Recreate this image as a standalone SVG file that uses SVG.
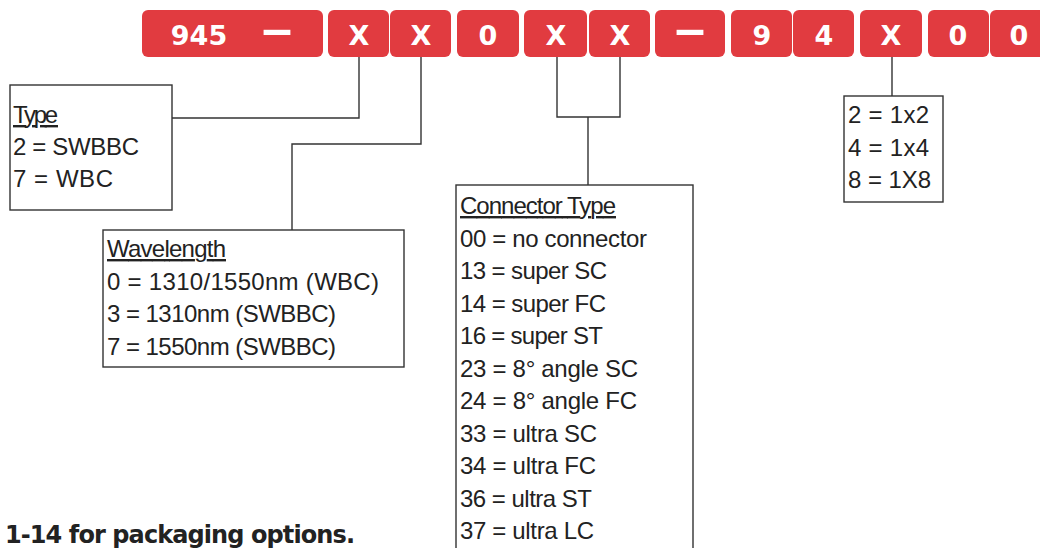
<svg xmlns="http://www.w3.org/2000/svg" width="1040" height="548" viewBox="0 0 1040 548">
<style>
.code rect{fill:#e13b40;}
.ct{font-family:"DejaVu Sans",sans-serif;font-weight:bold;font-size:27px;fill:#ffffff;text-anchor:middle;}
.dash{font-family:"DejaVu Sans",sans-serif;font-weight:bold;font-size:40px;fill:#ffffff;text-anchor:middle;}
.box{fill:#ffffff;stroke:#333333;stroke-width:1.4;}
.t{font-family:"Liberation Sans",Arial,sans-serif;font-size:24px;fill:#222222;}
.u{text-decoration:underline;}
.conn{fill:none;stroke:#333333;stroke-width:1.4;}
.note{font-family:"DejaVu Sans",sans-serif;font-weight:bold;font-size:24px;fill:#222222;}
</style>
<rect width="1040" height="548" fill="#ffffff"/>
<g id="code" class="code">
<rect x="142" y="10" width="181" height="47" rx="6"/>
<rect x="328" y="10" width="61" height="47" rx="6"/>
<rect x="390" y="10" width="61" height="47" rx="6"/>
<rect x="457" y="10" width="62" height="47" rx="6"/>
<rect x="524" y="10" width="63" height="47" rx="6"/>
<rect x="589" y="10" width="61" height="47" rx="6"/>
<rect x="655" y="10" width="70" height="47" rx="6"/>
<rect x="731" y="10" width="61" height="47" rx="6"/>
<rect x="793" y="10" width="61" height="47" rx="6"/>
<rect x="860" y="10" width="62" height="47" rx="6"/>
<rect x="928" y="10" width="61" height="47" rx="6"/>
<rect x="990" y="10" width="60" height="47" rx="6"/>
<text class="ct" x="199" y="45">945</text>
<text class="dash" transform="translate(277,0) scale(1.7,1)" x="0" y="44.5">–</text>
<text class="ct" x="359" y="45">X</text>
<text class="ct" x="421" y="45">X</text>
<text class="ct" x="488" y="45">0</text>
<text class="ct" x="556" y="45">X</text>
<text class="ct" x="620" y="45">X</text>
<text class="dash" transform="translate(690,0) scale(1.7,1)" x="0" y="44.5">–</text>
<text class="ct" x="762" y="45">9</text>
<text class="ct" x="824" y="45">4</text>
<text class="ct" x="891" y="45">X</text>
<text class="ct" x="958" y="45">0</text>
<text class="ct" x="1019" y="45">0</text>
</g>
<g id="connectors">
<polyline class="conn" points="172,118 359,118 359,57"/>
<polyline class="conn" points="421,57 421,144 292,144 292,230"/>
<polyline class="conn" points="557,57 557,117 620,117 620,57"/>
<line class="conn" x1="588" y1="117" x2="588" y2="185"/>
<line class="conn" x1="892" y1="57" x2="892" y2="96"/>
</g>
<g id="type">
<rect class="box" x="10" y="85" width="162" height="125"/>
<text class="t u" x="13" y="123" textLength="45">Type</text>
<text class="t" x="13" y="155" textLength="126">2 = SWBBC</text>
<text class="t" x="13" y="187" textLength="100">7 = WBC</text>
</g>
<g id="wavelength">
<rect class="box" x="103" y="230" width="301" height="137"/>
<text class="t u" x="107" y="257" textLength="119">Wavelength</text>
<text class="t" x="107" y="290" textLength="272">0 = 1310/1550nm (WBC)</text>
<text class="t" x="107" y="322" textLength="229">3 = 1310nm (SWBBC)</text>
<text class="t" x="107" y="355" textLength="229">7 = 1550nm (SWBBC)</text>
</g>
<g id="connector-type">
<rect class="box" x="456" y="185" width="237" height="380"/>
<text class="t u" x="460" y="214" textLength="156">Connector Type</text>
<text class="t" x="460" y="247" textLength="187">00 = no connector</text>
<text class="t" x="460" y="279" textLength="147">13 = super SC</text>
<text class="t" x="460" y="312" textLength="146">14 = super FC</text>
<text class="t" x="460" y="344" textLength="143">16 = super ST</text>
<text class="t" x="460" y="377" textLength="178">23 = 8° angle SC</text>
<text class="t" x="460" y="409" textLength="177">24 = 8° angle FC</text>
<text class="t" x="460" y="442" textLength="137">33 = ultra SC</text>
<text class="t" x="460" y="474" textLength="136">34 = ultra FC</text>
<text class="t" x="460" y="507" textLength="132">36 = ultra ST</text>
<text class="t" x="460" y="539" textLength="134">37 = ultra LC</text>
</g>
<g id="config">
<rect class="box" x="844" y="96" width="99" height="106"/>
<text class="t" x="848" y="123" textLength="81">2 = 1x2</text>
<text class="t" x="848" y="156" textLength="81">4 = 1x4</text>
<text class="t" x="848" y="188" textLength="83">8 = 1X8</text>
</g>
<text class="note" x="5" y="543" textLength="350">1-14 for packaging options.</text>
</svg>
